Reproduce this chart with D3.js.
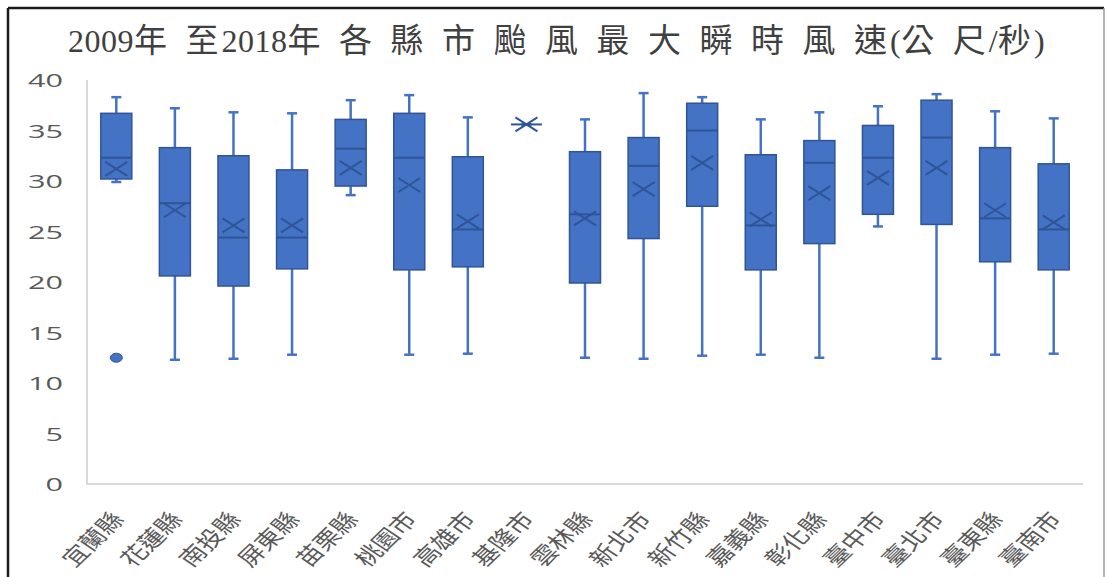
<!DOCTYPE html>
<html>
<head>
<meta charset="utf-8">
<script src="https://cdn.jsdelivr.net/npm/d3@7"></script>
<style>
  html, body { margin: 0; padding: 0; background: #fff; }
  svg { display: block; }
</style>
</head>
<body>
<svg id="chart" width="1108" height="577"></svg>
<script>
// 各縣市颱風最大瞬時風速 (公尺/秒), 2009–2018 年
const categories = ["宜蘭縣","花蓮縣","南投縣","屏東縣","苗栗縣","桃園市","高雄市","基隆市","雲林縣","新北市","新竹縣","嘉義縣","彰化縣","臺中市","臺北市","臺東縣","臺南市"];
const whiskerLow  = [30.0, 12.4, 12.5, 12.9, 28.7, 12.9, 13.0, 35.7, 12.6, 12.5, 12.8, 12.9, 12.6, 25.6, 12.5, 12.9, 13.0];
const q1          = [30.3, 20.7, 19.7, 21.4, 29.6, 21.3, 21.6, 35.7, 20.0, 24.4, 27.6, 21.3, 23.9, 26.8, 25.8, 22.1, 21.3];
const median      = [32.4, 27.9, 24.5, 24.5, 33.3, 32.4, 25.3, 35.7, 26.8, 31.6, 35.1, 25.7, 31.9, 32.4, 34.4, 26.4, 25.3];
const q3          = [36.8, 33.4, 32.6, 31.2, 36.2, 36.8, 32.5, 35.7, 33.0, 34.4, 37.8, 32.7, 34.1, 35.6, 38.1, 33.4, 31.8];
const whiskerHigh = [38.4, 37.3, 36.9, 36.8, 38.1, 38.6, 36.4, 35.7, 36.2, 38.8, 38.4, 36.2, 36.9, 37.5, 38.7, 37.0, 36.3];
const mean        = [31.3, 27.2, 25.7, 25.7, 31.4, 29.7, 26.1, 35.7, 26.4, 29.3, 31.9, 26.3, 28.9, 30.4, 31.4, 27.2, 26.0];
const outliers    = [[12.6], [], [], [], [], [], [], [], [], [], [], [], [], [], [], [], []];
const yTicks = [0, 5, 10, 15, 20, 25, 30, 35, 40];
// title runs: Latin runs use a serif, CJK runs are letter-spaced
const titleParts = ["2009", "年至", "2018", "年各縣市颱風最大瞬時風速", "(", "公尺", "/", "秒", ")"];

const rows = categories.map((c, i) => ({
  name: c, lo: whiskerLow[i], q1: q1[i], med: median[i], q3: q3[i],
  hi: whiskerHigh[i], mean: mean[i], out: outliers[i]
}));

const svg = d3.select("#chart");
const fill = "#4472C4", edge = "#2F5597", gray = "#595959";

// outer frame
svg.append("line").attr("x1", 8).attr("x2", 1104).attr("y1", 8).attr("y2", 8)
  .attr("stroke", "#1a1a1a").attr("stroke-width", 2.5);
svg.append("line").attr("x1", 8).attr("x2", 8).attr("y1", 8).attr("y2", 577)
  .attr("stroke", "#1a1a1a").attr("stroke-width", 2.5);
svg.append("line").attr("x1", 1104).attr("x2", 1104).attr("y1", 8).attr("y2", 577)
  .attr("stroke", "#9a9a9a").attr("stroke-width", 1.5);

const x = d3.scaleBand().domain(categories).range([87, 1083]).padding(0);
const y = d3.scaleLinear().domain([0, 40]).range([485, 81]);
const boxW = 31, capW = 10;

// title: one text element; inside a CJK run the glyphs are spread,
// the run's last glyph keeps only a narrow gap to what follows
const isCJK = s => /[\u3400-\u9fff]/.test(s);
const cjkSpacing = 18.5;
const pieces = [];
titleParts.forEach(p => {
  if (isCJK(p)) {
    if (p.length > 1) pieces.push({ t: p.slice(0, -1), cjk: true, ls: cjkSpacing });
    pieces.push({ t: p.slice(-1), cjk: true, ls: 3 });
  } else {
    pieces.push({ t: p, cjk: false, ls: 0.5 });
  }
});
svg.append("text")
  .attr("x", 68).attr("y", 52).attr("fill", "#404040")
  .selectAll("tspan").data(pieces).join("tspan")
  .attr("font-family", d => d.cjk ? "'Noto Sans CJK TC',sans-serif" : "'Liberation Serif','DejaVu Serif',serif")
  .attr("font-size", d => d.cjk ? 33 : 32)
  .attr("letter-spacing", d => d.ls)
  .text(d => d.t);

// axis lines
svg.append("line").attr("x1", 87).attr("x2", 87).attr("y1", 80).attr("y2", 485)
  .attr("stroke", "#D9D9D9").attr("stroke-width", 2);
svg.append("line").attr("x1", 87).attr("x2", 1083).attr("y1", 484).attr("y2", 484)
  .attr("stroke", "#D9D9D9").attr("stroke-width", 2);

// y axis labels
svg.append("g").selectAll("text").data(yTicks).join("text")
  .attr("transform", v => `translate(63,${y(v)}) scale(1.7,1)`)
  .attr("text-anchor", "end").attr("dy", "0.36em")
  .attr("font-family", "'Open Sans','Liberation Sans',sans-serif")
  .attr("font-size", 18).attr("fill", gray)
  .text(v => v);

// x axis labels
const xAxis = svg.append("g").attr("transform", "translate(0,484)")
  .call(d3.axisBottom(x).tickSize(0).tickPadding(0));
xAxis.select(".domain").remove();
xAxis.selectAll("text")
  .attr("font-family", "'Noto Sans CJK TC',sans-serif")
  .attr("font-size", 21).attr("fill", gray)
  .attr("text-anchor", "end")
  .attr("y", 0).attr("dy", 0)
  .attr("transform", "translate(9,36) scale(1.25,1) rotate(-50)");

// box plots
const g = svg.append("g").selectAll("g").data(rows).join("g")
  .attr("transform", d => `translate(${x(d.name) + x.bandwidth() / 2},0)`);

// whiskers
g.append("line").attr("y1", d => y(d.q3)).attr("y2", d => y(d.hi))
  .attr("stroke", fill).attr("stroke-width", 2.5);
g.append("line").attr("y1", d => y(d.q1)).attr("y2", d => y(d.lo))
  .attr("stroke", fill).attr("stroke-width", 2.5);
g.append("line").attr("x1", -capW / 2).attr("x2", capW / 2)
  .attr("y1", d => y(d.hi)).attr("y2", d => y(d.hi))
  .attr("stroke", fill).attr("stroke-width", 2.5);
g.append("line").attr("x1", -capW / 2).attr("x2", capW / 2)
  .attr("y1", d => y(d.lo)).attr("y2", d => y(d.lo))
  .attr("stroke", fill).attr("stroke-width", 2.5);

// box
g.append("rect").attr("x", -boxW / 2).attr("width", boxW)
  .attr("y", d => y(d.q3)).attr("height", d => y(d.q1) - y(d.q3))
  .attr("fill", fill).attr("stroke", edge).attr("stroke-width", 1.5);

// median
g.append("line").attr("x1", -boxW / 2).attr("x2", boxW / 2)
  .attr("y1", d => y(d.med)).attr("y2", d => y(d.med))
  .attr("stroke", edge).attr("stroke-width", 2);

// mean marker
const mw = 11, mh = 7;
g.append("path")
  .attr("d", d => {
    const cy = y(d.mean);
    return `M${-mw},${cy - mh}L${mw},${cy + mh}M${-mw},${cy + mh}L${mw},${cy - mh}`;
  })
  .attr("stroke", edge).attr("stroke-width", 2).attr("fill", "none");

// outliers
g.selectAll("ellipse").data(d => d.out).join("ellipse")
  .attr("cx", 0).attr("cy", v => y(v)).attr("rx", 6).attr("ry", 4.5)
  .attr("fill", fill).attr("stroke", edge).attr("stroke-width", 1);
</script>
</body>
</html>
